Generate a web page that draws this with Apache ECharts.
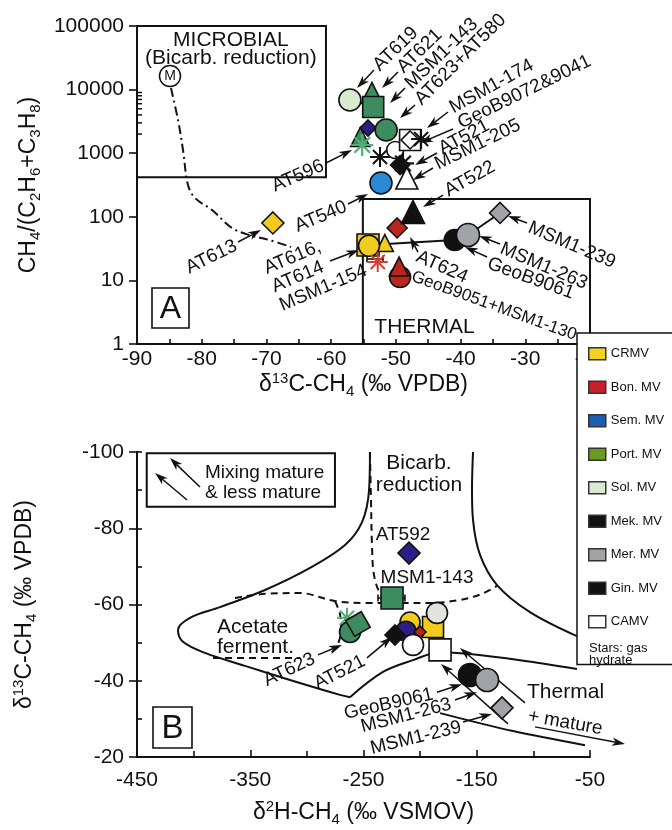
<!DOCTYPE html>
<html><head><meta charset="utf-8">
<script src="https://cdn.jsdelivr.net/npm/echarts@6/dist/echarts.min.js"></script>
<style>html,body{margin:0;padding:0;background:#fff}#c{width:672px;height:830px}</style>
</head><body><div id="c"></div>
<script>
const FONT = '"Liberation Sans", Arial, Helvetica, sans-serif';

// ================= DATA =================
// Panel A: δ13C-CH4 (‰ VPDB) vs CH4/(C2H6+C3H8)
const aGroup = ['Sem. MV','Sem. MV','Sol. MV','Port. MV','Port. MV','Port. MV','Port. MV','Port. MV',
  'CRMV','CRMV','CRMV','CRMV','Bon. MV','Bon. MV','Bon. MV','Bon. MV',
  'CAMV','CAMV','CAMV','CAMV','Mek. MV','Mek. MV','Mek. MV','Mek. MV','Mek. MV','Gin. MV','Mer. MV','Mer. MV'];
const aD13C = [-54.3,-52.3,-57.1,-53.7,-53.5,-51.5,-55.5,-55.2,
  -69.0,-54.3,-51.7,-54.15,-49.8,-49.35,-49.5,-52.8,
  -50.1,-47.8,-47.8,-48.3,-49.35,-48.9,-52.45,-46.1,-47.35,-40.9,-38.85,-33.9];
const aRatio = [2490,340,6860,8850,5325,2316,1798,1345,
  80,36,38.7,35,66.7,11.3,16.5,19.5,
  1123,1614,1614,407,652,690,871,1672,119,43.2,51.7,114.8];
// Panel B: δ2H-CH4 (‰ VSMOW) vs δ13C-CH4 (‰ VPDB)
const bGroup = ['Port. MV','Port. MV','Port. MV','Port. MV','CRMV','CRMV','Sem. MV','Sem. MV',
  'Sol. MV','Mek. MV','Bon. MV','CAMV','CAMV','Gin. MV','Mer. MV','Mer. MV'];
const bD2H  = [-264.6,-261.9,-254.9,-224.8,-208.9,-188.6,-209.8,-212.5,-185.1,-222.2,-200.1,-206.3,-182.4,-156.0,-140.9,-127.7];
const bD13C = [-56.5,-52.8,-54.9,-61.7,-55.4,-54.1,-73.5,-53.0,-57.8,-52.0,-52.8,-49.4,-48.1,-41.5,-40.2,-32.9];
// Microbial end-member and mixing curve (panel A)
const endMember = [[-84.9, 16370]];
const mixCurveA = [[-84.75,10600],[-83.66,3327],[-82.89,1123],[-82.12,316],[-81.04,198],[-78.41,128],
  [-75.32,66.7],[-72.69,51.8],[-69.6,43.2],[-66.2,33.5]];
const mixLineA1 = [[-51.5,37.4],[-40.9,43.2]];
const mixLineA2 = [[-38.85,51.7],[-33.9,114.8]];
const errA = [[-54.46,-51.99,21.7]];
const errB = [[-237.2,-213.4,-61.7]];
// Field boundaries (panel B)
const fieldSolidB1 = [[-244.3,-100],[-245.1,-90.0],[-251.3,-81.6],[-266.3,-75.6],[-297.2,-69.6],[-337.0,-63.8],
  [-376.7,-59.3],[-403.2,-56.5],[-413.8,-53.3],[-409.4,-50.2],[-390.0,-47.3],[-354.6,-43.9],[-314.9,-40.2],[-270.8,-36.3],[-261.9,-35.7]];
const fieldSolidB2 = [[-261.9,-35.7],[-232.8,-42.3],[-206.3,-45.4],[-182.4,-47.5],[-156.0,-47.0],[-111.8,-45.4],[-61.5,-43.1]];
const fieldSolidB3 = [[-153.3,-100],[-154.2,-90.0],[-153.3,-82.2],[-147.1,-73.0],[-132.1,-65.1],[-103.0,-58.0],[-61.5,-51.7]];
const fieldSolidB4 = [[-182.4,-31.5],[-118.0,-26.8],[-54.4,-23.1]];
const fieldDashB1 = [[-244.3,-100],[-243.4,-87.4],[-242.5,-75.6],[-240.7,-67.7],[-234.5,-62.5],[-224.8,-60.4]];
const fieldDashB2 = [[-363.5,-61.7],[-337.0,-62.8],[-306.1,-63.0],[-275.2,-60.9],[-248.7,-60.4],[-222.2,-60.4],
  [-191.3,-60.4],[-164.8,-61.2],[-145.4,-62.8],[-132.1,-64.9]];
const fieldDashB3 = [[-275.2,-60.9],[-270.8,-57.5],[-269.9,-53.3],[-273.4,-49.1],[-281.3,-46.5]];
const fieldDashB4 = [[-382.9,-46.0],[-306.1,-46.0]];
// Boxes [x1,y1,x2,y2]
const boxesA = [[-90,420,-60.8,100000],[-55.1,1,-20,190]];
const boxesB = [[-441.4,-99.66,-275.2,-85.65]];
// Minor ticks of the log axis
const minorTicksA = [2000,3000,4000,5000,6000,7000,8000,9000];
// Callout arrows [tailX, tailY, tipX, tipY]
const arrowsA = [[-53.38,20330,-56.0,10600],[-49.67,18900,-52.14,10600],[-48.58,10600,-50.9,6155],
  [-47.04,5727,-49.36,3575],[-41.94,4446,-45.18,2490],[-41.17,2403,-46.27,1446],[-43.64,1007,-47.04,652],
  [-44.26,585,-47.35,379],[-42.71,220,-45.8,143],[-60.79,701,-56.77,1123],[-57.39,159,-54.3,228],
  [-74.39,40.2,-70.84,62],[-60.17,20.2,-55.69,30.1],[-46.58,27.9,-47.81,48.1],[-35.91,23.3,-39.31,33.5],
  [-33.9,37.4,-37.15,49.9],[-29.73,80,-32.67,103]];
const arrowsB = [[-290.2,-46.8,-269.0,-49.4],[-246.9,-46.0,-224.8,-51.5],[-185.1,-37.0,-163.0,-39.1],
  [-169.2,-34.95,-149.8,-37.0],[-162.1,-29.2,-136.5,-31.3],[-107.4,-34.2,-164.8,-48.6],
  [-122.4,-28.7,-181.6,-44.4],[-98.6,-27.9,-19.1,-23.4],[-394.4,-90.8,-420.9,-98.4],[-405.8,-87.4,-434.1,-94.5]];
// Text notes [text, x, y, rotation°, align, verticalAlign, fontSize]
const notesA = [
  ['AT619',-53.07,21870,44,'left'],['AT621',-49.36,20330,44,'left'],['MSM1-143',-48.12,11400,44,'left'],
  ['AT623+AT580',-46.58,6385,45,'left'],['MSM1-174',-41.48,4955,29,'left'],['GeoB9072&9041',-40.24,2878,26,'left'],
  ['AT521',-43.18,1123,28,'left'],['MSM1-205',-43.8,652,26,'left'],['AT522',-42.25,245,29,'left'],
  ['AT596',-61.26,652,23.6,'right'],['AT540',-57.7,148,23,'right'],['AT613',-74.7,36,26,'right'],
  ['AT616,\nAT614\nMSM1-154',-70.84,20.9,23,'left','top'],['AT624',-46.73,24.2,-24,'left'],
  ['GeoB9051+MSM1-130',-47.5,11.7,-20,'left','middle',17],['GeoB9061',-35.76,18.8,-20,'left'],
  ['MSM1-263',-33.75,32.3,-23,'left'],['MSM1-239',-29.42,69.2,-23,'left']];
const titlesA = [['MICROBIAL',-75.5,60300,0,'center'],['(Bicarb. reduction)',-75.5,31400,0,'center'],['THERMAL',-45.57,1.87,0,'center']];
const notesB = [
  ['AT592',-215.1,-78.2,0,'center'],['MSM1-143',-193.9,-67.0,0,'center'],
  ['AT623',-293.7,-46.0,25.6,'right'],['AT521',-249.6,-45.4,27,'right'],['GeoB9061',-188.6,-36.5,12.6,'right'],
  ['MSM1-263',-172.7,-33.9,14.5,'right'],['MSM1-239',-163.9,-27.9,13.7,'right'],
  ['Mixing mature',-390.0,-94.5,0,'left'],['& less mature',-390.0,-89.2,0,'left'],['+ mature',-104.7,-30.75,-10,'left']];
const titlesB = [['Bicarb.',-201.0,-97.1,0,'center'],['reduction',-201.0,-91.3,0,'center'],
  ['Acetate',-379.4,-54.1,0,'left'],['ferment.',-379.4,-48.85,0,'left'],['Thermal',-105.6,-37.0,0,'left']];
const legendNames = ['CRMV','Bon. MV','Sem. MV','Port. MV','Sol. MV','Mek. MV','Mer. MV','Gin. MV','CAMV'];

// ================= STYLE =================
const aShape = ['diamond','circle','circle','triangle','rect','circle','triangle','star',
  'diamond','rect','triangle','circle','diamond','circle','triangle','star',
  'circle','rect','diamond','triangle','diamond','star','star','star','triangle','circle','circle','diamond'];
const aSize = [16,22,22,21,21,22,19,22, 22,22,17,21,20,21,19,20, 17,21,18,22,19,22,20,20,23,21,23,21];
const aTint = ['navy','','','','','','','hyG', '','','','','','','','hyR', '','','','','','hyK','hyK','hyK','','','',''];
const bShape = ['star','circle','tilted','rect','circle','rect','diamond','circle','circle','diamond','diamond','circle','rect','circle','circle','diamond'];
const bSize = [20,21,18,22,20,21,22,20,21,20,12,21,22,23,23,22];
const bTint = ['hyG','','','','','','navy','navy','grey','','','','','','',''];
const orderA = ['Sem. MV','Sol. MV','Port. MV','CRMV','Bon. MV','CAMV','Mek. MV','Gin. MV','Mer. MV'];
const orderB = ['Port. MV','CRMV','Sem. MV','Sol. MV','Mek. MV','Bon. MV','CAMV','Gin. MV','Mer. MV'];
const GROUP_COLOR = {'CRMV':'#f1cb1f','Bon. MV':'#b8261e','Sem. MV':'#2a8ad6','Port. MV':'#3d8c5f','Sol. MV':'#d7ebd2',
  'Mek. MV':'#111111','Mer. MV':'#a0a4a9','Gin. MV':'#111111','CAMV':'#ffffff'};
const LEGEND_COLOR = {'CRMV':'#f4d21f','Bon. MV':'#c8202a','Sem. MV':'#1d5db4','Port. MV':'#6b9a20','Sol. MV':'#d9ead2',
  'Mek. MV':'#111111','Mer. MV':'#a3a3a3','Gin. MV':'#111111','CAMV':'#ffffff'};
const TINT = {navy:'#2b1f86', hyG:'#4fae78', hyR:'#dd3a2c', hyK:'#111111', grey:'#e1e3e0'};
const STAR = 'path://M-1,-10L1,-10L1,10L-1,10Z M-10,-1L10,-1L10,1L-10,1Z M-6.36,-7.78L7.78,6.36L6.36,7.78L-7.78,-6.36Z M7.78,-6.36L-6.36,7.78L-7.78,6.36L6.36,-7.78Z';
const MARKS = {circle:{symbol:'circle'}, rect:{symbol:'rect'}, diamond:{symbol:'diamond'}, triangle:{symbol:'triangle'},
  tilted:{symbol:'rect', rotate:30}, star:{symbol:STAR, star:true}};

function markerSeries(xi, yi, groups, xs, ys, shapes, sizes, tints, order) {
  return order.map(g => {
    const data = [];
    groups.forEach((gg, i) => {
      if (gg !== g) return;
      const m = MARKS[shapes[i]];
      const color = tints[i] ? TINT[tints[i]] : GROUP_COLOR[g];
      data.push({value:[xs[i], ys[i]], symbol:m.symbol, symbolSize:sizes[i], symbolRotate:m.rotate || 0,
        itemStyle: m.star ? {color, borderWidth:0, opacity:1} : {color, borderColor:'#111', borderWidth:1.6, opacity:1}});
    });
    return {type:'scatter', name:g, xAxisIndex:xi, yAxisIndex:yi, data, z:5, silent:true, itemStyle:{opacity:1}};
  });
}
function curve(xi, yi, data, type, smooth) {
  return {type:'line', xAxisIndex:xi, yAxisIndex:yi, data, smooth:smooth, symbol:'none', silent:true, z:2,
    lineStyle:{color:'#111', width:2, type:type}};
}
function textSeries(xi, yi, notes, size) {
  return {type:'custom', xAxisIndex:xi, yAxisIndex:yi, silent:true, z:6, clip:false,
    data: notes.map(n => [n[1], n[2]]),
    renderItem(params, api) {
      const n = notes[params.dataIndex];
      const fs = n[6] || size;
      const p = api.coord([api.value(0), api.value(1)]);
      return {type:'text', x:p[0], y:p[1], rotation:(n[3] || 0) * Math.PI / 180,
        style:{text:n[0], fill:'#111', fontSize:fs, fontFamily:FONT, lineHeight:fs + 1,
          align:n[4] || 'left', verticalAlign:n[5] || 'middle'}};
    }};
}
function arrowSeries(xi, yi, list) {
  return {type:'custom', xAxisIndex:xi, yAxisIndex:yi, silent:true, z:4, clip:false, data:list,
    renderItem(params, api) {
      const a = api.coord([api.value(0), api.value(1)]);
      const b = api.coord([api.value(2), api.value(3)]);
      const dx = b[0]-a[0], dy = b[1]-a[1], L = Math.hypot(dx, dy) || 1, ux = dx/L, uy = dy/L;
      const hl = 13, hw = 4.2;
      const bx = b[0]-ux*hl, by = b[1]-uy*hl, nx = b[0]-ux*hl*0.72, ny = b[1]-uy*hl*0.72;
      return {type:'group', children:[
        {type:'line', shape:{x1:a[0], y1:a[1], x2:nx, y2:ny}, style:{stroke:'#111', lineWidth:1.5}},
        {type:'polygon', shape:{points:[[b[0],b[1]],[bx-uy*hw, by+ux*hw],[nx,ny],[bx+uy*hw, by-ux*hw]]}, style:{fill:'#111'}}
      ]};
    }};
}
function boxSeries(xi, yi, list) {
  return {type:'custom', xAxisIndex:xi, yAxisIndex:yi, silent:true, z:2, clip:false, data:list,
    renderItem(params, api) {
      const a = api.coord([api.value(0), api.value(1)]);
      const b = api.coord([api.value(2), api.value(3)]);
      return {type:'rect', shape:{x:Math.min(a[0],b[0]), y:Math.min(a[1],b[1]), width:Math.abs(b[0]-a[0]), height:Math.abs(b[1]-a[1])},
        style:{fill:'none', stroke:'#111', lineWidth:2}};
    }};
}
function errSeries(xi, yi, list) {
  return {type:'custom', xAxisIndex:xi, yAxisIndex:yi, silent:true, z:4, clip:false, data:list,
    renderItem(params, api) {
      const a = api.coord([api.value(0), api.value(2)]);
      const b = api.coord([api.value(1), api.value(2)]);
      const st = {stroke:'#111', lineWidth:1.6};
      return {type:'group', children:[
        {type:'line', shape:{x1:a[0], y1:a[1], x2:b[0], y2:b[1]}, style:st},
        {type:'line', shape:{x1:a[0], y1:a[1]-3.5, x2:a[0], y2:a[1]+3.5}, style:st},
        {type:'line', shape:{x1:b[0], y1:b[1]-3.5, x2:b[0], y2:b[1]+3.5}, style:st}]};
    }};
}
const minorTickSeries = {type:'custom', xAxisIndex:0, yAxisIndex:0, silent:true, z:3, clip:false,
  data: minorTicksA.map(v => [-90, v]),
  renderItem(params, api) {
    const p = api.coord([api.value(0), api.value(1)]);
    return {type:'line', shape:{x1:p[0], y1:p[1], x2:p[0]+5, y2:p[1]}, style:{stroke:'#111', lineWidth:1.5}};
  }};

const RICH = {
  t:{fontSize:23, fontFamily:FONT, color:'#111', lineHeight:28},
  s:{fontSize:15, fontFamily:FONT, color:'#111', lineHeight:15, verticalAlign:'bottom'},
  p:{fontSize:15, fontFamily:FONT, color:'#111', lineHeight:18, verticalAlign:'top'}
};
const AX = {color:'#111', width:2};
const LBL = {color:'#111', fontSize:21, fontFamily:FONT};

const option = {
  animation:false,
  textStyle:{fontFamily:FONT},
  grid:[{left:137, top:26, width:453, height:318}, {left:137, top:452, width:453, height:305}],
  xAxis:[
    {gridIndex:0, type:'value', min:-90, max:-20, interval:10,
     axisLine:{show:true, onZero:false, lineStyle:AX},
     axisTick:{show:true, inside:true, length:5, lineStyle:{color:'#111', width:1.6}},
     minorTick:{show:true, splitNumber:2, length:5, lineStyle:{color:'#111', width:1.6}},
     splitLine:{show:false}, axisLabel:Object.assign({margin:5}, LBL),
     name:'{t|δ}{p|13}{t|C-CH}{s|4}{t| (‰ VPDB)}', nameLocation:'middle', nameGap:22, nameTextStyle:{rich:RICH}},
    {gridIndex:1, type:'value', min:-450, max:-50, interval:100,
     axisLine:{show:true, onZero:false, lineStyle:AX},
     axisTick:{show:true, inside:true, length:7, lineStyle:{color:'#111', width:1.6}},
     minorTick:{show:true, splitNumber:2, length:6, lineStyle:{color:'#111', width:1.6}},
     splitLine:{show:false}, axisLabel:Object.assign({margin:13}, LBL),
     name:'{t|δ}{p|2}{t|H-CH}{s|4}{t| (‰ VSMOV)}', nameLocation:'middle', nameGap:42, nameTextStyle:{rich:RICH}}
  ],
  yAxis:[
    {gridIndex:0, type:'log', logBase:10, min:1, max:100000,
     axisLine:{show:true, onZero:false, lineStyle:AX},
     axisTick:{show:true, inside:false, length:8, lineStyle:{color:'#111', width:1.6}},
     splitLine:{show:false}, minorTick:{show:false},
     axisLabel:Object.assign({margin:13, formatter:v => String(Math.round(v))}, LBL),
     name:'{t|CH}{s|4}{t|/(C}{s|2}{t|H}{s|6}{t|+C}{s|3}{t|H}{s|8}{t|)}', nameLocation:'middle', nameGap:93, nameRotate:90,
     nameTextStyle:{rich:RICH}},
    {gridIndex:1, type:'value', min:-100, max:-20, interval:20, inverse:true,
     axisLine:{show:true, onZero:false, lineStyle:AX},
     axisTick:{show:true, inside:false, length:8, lineStyle:{color:'#111', width:1.6}},
     splitLine:{show:false}, axisLabel:Object.assign({margin:13}, LBL),
     name:'{t|δ}{p|13}{t|C-CH}{s|4}{t| (‰ VPDB)}', nameLocation:'middle', nameGap:98, nameRotate:90,
     nameTextStyle:{rich:RICH}},
    {gridIndex:1, type:'value', min:-100, max:-20, interval:10, inverse:true, position:'left',
     axisLine:{show:false}, axisLabel:{show:false}, splitLine:{show:false},
     axisTick:{show:true, inside:true, length:5, lineStyle:{color:'#111', width:1.6}}}
  ],
  legend:{show:true, orient:'vertical', left:577, top:333, padding:[14,40,36,11], itemGap:20,
    itemWidth:17, itemHeight:12, selectedMode:false, backgroundColor:'#fff', borderColor:'#111', borderWidth:1.5,
    textStyle:{fontSize:13, fontFamily:FONT, color:'#111', lineHeight:12},
    data: legendNames.map(n => ({name:n, icon:'rect', itemStyle:{color:LEGEND_COLOR[n], borderColor:'#333', borderWidth:1.5, opacity:1}}))},
  graphic:[
    {type:'rect', z:50, shape:{x:152, y:288, width:37, height:40}, style:{fill:'#fff', stroke:'#111', lineWidth:1.6}},
    {type:'text', z:51, x:170.5, y:309, style:{text:'A', fontSize:32, fontFamily:FONT, fill:'#111', align:'center', verticalAlign:'middle'}},
    {type:'rect', z:50, shape:{x:153, y:707, width:39, height:41}, style:{fill:'#fff', stroke:'#111', lineWidth:1.6}},
    {type:'text', z:51, x:172.5, y:728.5, style:{text:'B', fontSize:33, fontFamily:FONT, fill:'#111', align:'center', verticalAlign:'middle'}},
    {type:'text', z:100, x:589, y:642, style:{text:'Stars: gas\nhydrate', fontSize:13, fontFamily:FONT, lineHeight:12.5, fill:'#111', align:'left', verticalAlign:'top'}}
  ],
  series:[
    boxSeries(0,0,boxesA), boxSeries(1,1,boxesB), minorTickSeries,
    curve(0,0,mixCurveA,[9,4,2,4],0.35),
    curve(0,0,mixLineA1,'solid',false), curve(0,0,mixLineA2,'solid',false),
    curve(1,1,fieldSolidB1,'solid',0.35), curve(1,1,fieldSolidB2,'solid',0.35),
    curve(1,1,fieldSolidB3,'solid',0.35), curve(1,1,fieldSolidB4,'solid',0.35),
    curve(1,1,fieldDashB1,[7,5],0.35), curve(1,1,fieldDashB2,[7,5],0.35),
    curve(1,1,fieldDashB3,[7,5],0.35), curve(1,1,fieldDashB4,[7,5],false),
    errSeries(0,0,errA), errSeries(1,1,errB),
    arrowSeries(0,0,arrowsA), arrowSeries(1,1,arrowsB),
    ...markerSeries(0,0,aGroup,aD13C,aRatio,aShape,aSize,aTint,orderA),
    ...markerSeries(1,1,bGroup,bD2H,bD13C,bShape,bSize,bTint,orderB),
    {type:'scatter', name:'Microbial end-member', xAxisIndex:0, yAxisIndex:0, data:endMember, symbol:'circle', symbolSize:21, z:5, silent:true,
     itemStyle:{color:'#fff', borderColor:'#111', borderWidth:1.5, opacity:1},
     label:{show:true, position:'inside', formatter:'M', fontSize:14, fontFamily:FONT, color:'#111'}},
    textSeries(0,0,notesA,19), textSeries(0,0,titlesA,21),
    textSeries(1,1,notesB,19), textSeries(1,1,titlesB,21)
  ]
};
const chart = echarts.init(document.getElementById('c'), null, {renderer:'canvas'});
chart.setOption(option);
</script></body></html>
